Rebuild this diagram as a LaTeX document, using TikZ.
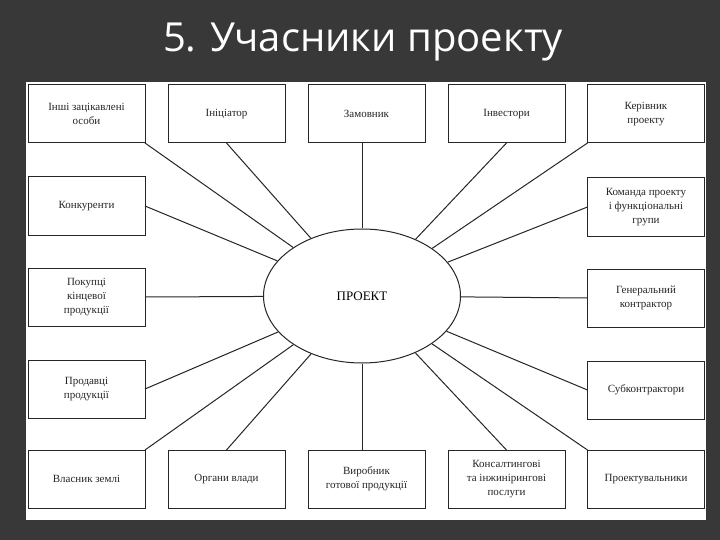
\documentclass[tikz,border=0pt]{standalone}
\usepackage{fontspec}
\setmainfont{Liberation Serif}
\newfontfamily\titlefont{Open Sans}
\usetikzlibrary{shapes.geometric}
\begin{document}
\begin{tikzpicture}[x=1pt,y=-1pt,
  bx/.style={draw=black!85,line width=1pt,fill=white,minimum width=117pt,minimum height=58pt,inner sep=1pt,outer sep=0pt,align=center,font=\fontsize{11}{14}\selectfont,text=black!85},
  ln/.style={draw=black!85,line width=1pt}]
\fill[black!78] (0,0) rectangle (720,540);
\useasboundingbox (0,0) rectangle (720,540);
\fill[white] (26,82) rectangle (706,520);
\node[text=white,font=\titlefont\fontsize{40}{44}\selectfont] (title) at (363,42) {5. Учасники проекту};
\node[ellipse,draw=black!85,line width=1pt,minimum width=197pt,minimum height=134pt,inner sep=0pt,font=\fontsize{13}{15}\selectfont] (e) at (362,296) {ПРОЕКТ};
% top row
\node[bx] (b1) at (86.5,114) {Інші зацікавлені\\особи};
\node[bx] (b2) at (226.5,114) {Ініціатор};
\node[bx] (b3) at (366.5,114) {Замовник};
\node[bx] (b4) at (506.5,114) {Інвестори};
\node[bx] (b5) at (646,114) {Керівник\\проекту};
% left column
\node[bx] (l1) at (86.5,206) {Конкуренти};
\node[bx] (l2) at (86.5,297) {Покупці\\кінцевої\\продукції};
\node[bx] (l3) at (86.5,389) {Продавці\\продукції};
% right column
\node[bx] (r1) at (646,207) {Команда проекту\\і функціональні\\групи};
\node[bx] (r2) at (646,298) {Генеральний\\контрактор};
\node[bx] (r3) at (646,390) {Субконтрактори};
% bottom row
\node[bx] (d1) at (86.5,479) {Власник землі};
\node[bx] (d2) at (226.5,479) {Органи влади};
\node[bx] (d3) at (366.5,479) {Виробник\\готової продукції};
\node[bx] (d4) at (506.5,479) {Консалтингові\\та інжинірингові\\послуги};
\node[bx] (d5) at (646,479) {Проектувальники};
% connectors
\draw[ln] (b1.south east) -- (e);
\draw[ln] (b2.south) -- (e);
\draw[ln] (e.north) -- (e.north |- b3.south);
\draw[ln] (b4.south) -- (e);
\draw[ln] (b5.south west) -- (e);
\draw[ln] (l1.east) -- (e);
\draw[ln] (l2.east) -- (e);
\draw[ln] (l3.east) -- (e);
\draw[ln] (r1.west) -- (e);
\draw[ln] (r2.west) -- (e);
\draw[ln] (r3.west) -- (e);
\draw[ln] (d1.north east) -- (e);
\draw[ln] (d2.north) -- (e);
\draw[ln] (e.south) -- (e.south |- d3.north);
\draw[ln] (d4.north) -- (e);
\draw[ln] (d5.north west) -- (e);
\end{tikzpicture}
\end{document}
